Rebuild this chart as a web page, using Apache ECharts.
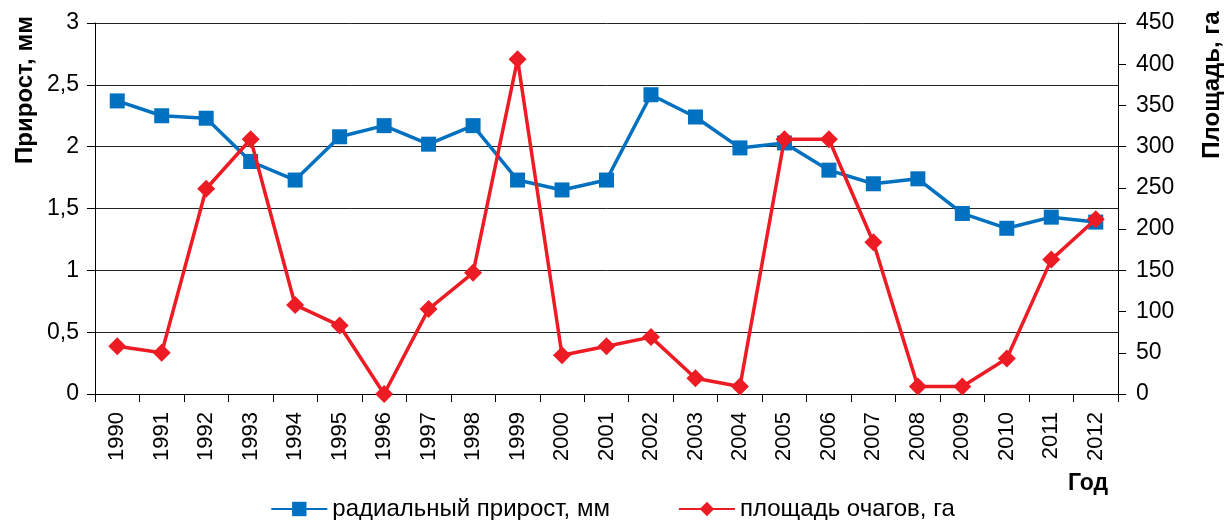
<!DOCTYPE html>
<html><head><meta charset="utf-8">
<script src="https://cdn.jsdelivr.net/npm/echarts@6/dist/echarts.min.js"></script>
<style>html,body{margin:0;padding:0;background:#fff}#c{width:1225px;height:520px}</style>
</head><body><div id="c"></div>
<script>
const years = ['1990','1991','1992','1993','1994','1995','1996','1997','1998','1999','2000','2001','2002','2003','2004','2005','2006','2007','2008','2009','2010','2011','2012'];
const growth = [2.37,2.25,2.23,1.88,1.73,2.08,2.17,2.02,2.17,1.73,1.65,1.73,2.42,2.24,1.99,2.03,1.81,1.70,1.74,1.46,1.34,1.43,1.39];
const area = [58,50,249,309,108,83,0,103,147,406,47,58,69,19,9,309,309,184,9,9,43,163,212];
const leftTicks = {min:0,max:3,interval:0.5};
const rightTicks = {min:0,max:450,interval:50};
const seriesNames = ['радиальный прирост, мм','площадь очагов, га'];
const leftName = 'Прирост, мм', rightName = 'Площадь, га', xName = 'Год';

const F = 'Liberation Sans, Arial, sans-serif';
const chart = echarts.init(document.getElementById('c'));
chart.setOption({
  animation:false,
  textStyle:{fontFamily:F,color:'#000'},
  grid:{left:95,right:107,top:23,bottom:126},
  legend:{top:497,left:'center',itemWidth:56,itemHeight:18,itemGap:68,padding:0,
    textStyle:{fontSize:24,fontFamily:F,color:'#000'},data:seriesNames},
  xAxis:{type:'category',data:years,boundaryGap:true,
    axisLine:{lineStyle:{color:'#000',width:1}},
    axisTick:{show:true,length:8,lineStyle:{color:'#000'}},
    axisLabel:{rotate:90,fontSize:22,margin:18,color:'#000',fontFamily:F}},
  yAxis:[
    {type:'value',min:leftTicks.min,max:leftTicks.max,interval:leftTicks.interval,
     axisLine:{show:true,lineStyle:{color:'#000'}},
     axisTick:{show:true,length:8,lineStyle:{color:'#000'}},
     splitLine:{show:true,lineStyle:{color:'#222',width:1}},
     axisLabel:{fontSize:23,margin:16,color:'#000',fontFamily:F,
       formatter:v=>String(v).replace('.',',')}},
    {type:'value',position:'right',min:rightTicks.min,max:rightTicks.max,interval:rightTicks.interval,
     axisLine:{show:true,lineStyle:{color:'#000'}},
     axisTick:{show:true,length:8,lineStyle:{color:'#000'}},
     splitLine:{show:false},
     axisLabel:{fontSize:23,margin:18,color:'#000',fontFamily:F}}
  ],
  series:[
    {name:seriesNames[0],type:'line',data:growth,yAxisIndex:0,symbol:'rect',symbolSize:15,
     lineStyle:{color:'#0070C0',width:3.5},itemStyle:{color:'#0070C0'},z:2},
    {name:seriesNames[1],type:'line',data:area,yAxisIndex:1,symbol:'diamond',symbolSize:18,
     lineStyle:{color:'#ED1C24',width:3.5},itemStyle:{color:'#ED1C24'},z:3}
  ],
  graphic:[
    {type:'text',x:25,y:90,rotation:Math.PI/2,
     style:{text:leftName,font:'bold 24px '+F,fill:'#000',align:'center',verticalAlign:'middle'}},
    {type:'text',x:1212,y:85,rotation:Math.PI/2,
     style:{text:rightName,font:'bold 24px '+F,fill:'#000',align:'center',verticalAlign:'middle'}},
    {type:'text',x:1088,y:484,
     style:{text:xName,font:'bold 23px '+F,fill:'#000',align:'center',verticalAlign:'middle'}}
  ]
});
</script></body></html>
